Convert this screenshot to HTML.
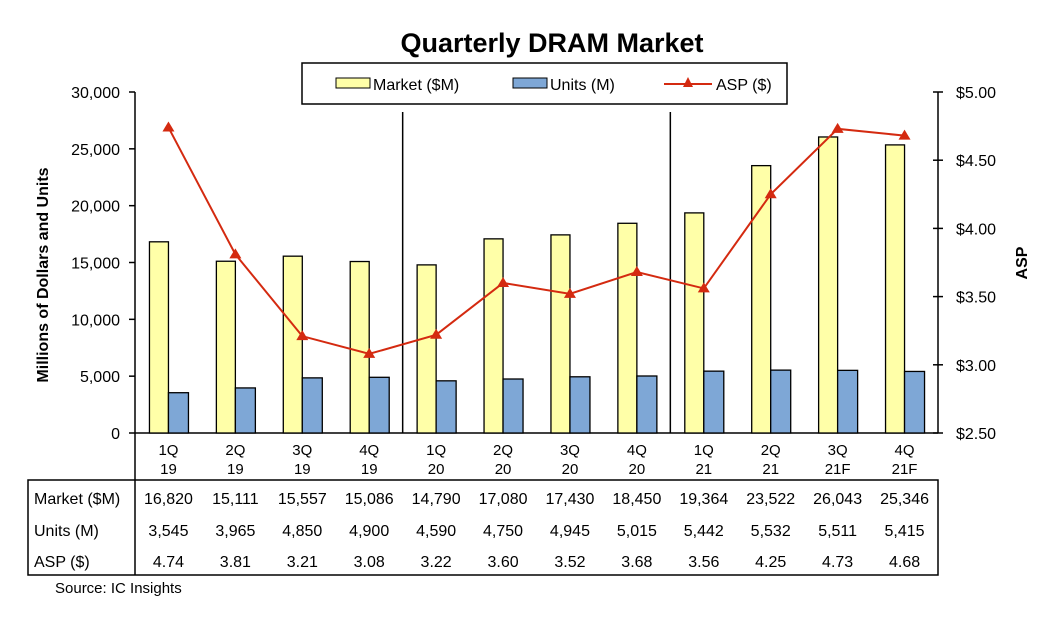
<!DOCTYPE html>
<html><head><meta charset="utf-8"><style>
body{margin:0;background:#fff;font-family:"Liberation Sans",sans-serif;}
svg text{font-family:"Liberation Sans",sans-serif;}
</style></head><body>
<svg id="c" width="1045" height="615" xmlns="http://www.w3.org/2000/svg">
<text x="552" y="52" text-anchor="middle" font-size="27" font-weight="bold">Quarterly DRAM Market</text>
<g>
<rect x="302" y="63" width="485" height="41" fill="#fff" stroke="#000" stroke-width="1.5"/>
<rect x="336" y="78" width="34" height="10" fill="#ffffa8" stroke="#000"/>
<text x="373" y="90" font-size="16">Market ($M)</text>
<rect x="513" y="78" width="34" height="10" fill="#7ea7d6" stroke="#000"/>
<text x="550" y="90" font-size="16">Units (M)</text>
<line x1="664" y1="84" x2="712" y2="84" stroke="#d42a10" stroke-width="2"/>
<polygon points="688,77 683,87 693,87" fill="#d42a10"/>
<text x="716" y="90" font-size="16">ASP ($)</text>
</g>
<g id="g"></g>
</svg>
<script>
const cats1=["1Q","2Q","3Q","4Q","1Q","2Q","3Q","4Q","1Q","2Q","3Q","4Q"];
const cats2=["19","19","19","19","20","20","20","20","21","21","21F","21F"];
const market=[16820,15111,15557,15086,14790,17080,17430,18450,19364,23522,26043,25346];
const units=[3545,3965,4850,4900,4590,4750,4945,5015,5442,5532,5511,5415];
const asp=[4.74,3.81,3.21,3.08,3.22,3.60,3.52,3.68,3.56,4.25,4.73,4.68];
const leftTicks=[0,5000,10000,15000,20000,25000,30000];
const rightTicks=[2.5,3.0,3.5,4.0,4.5,5.0];
const NS="http://www.w3.org/2000/svg";
const g=document.getElementById('g');
const X0=135,X1=938,Y0=433,YT=92,n=cats1.length,cw=(X1-X0)/n;
const yL=v=>Y0-(v/30000)*(Y0-YT);
const yR=v=>Y0-((v-2.5)/2.5)*(Y0-YT);
const xc=i=>X0+cw*(i+0.5);
function mk(t,a,txt){const e=document.createElementNS(NS,t);for(const k in a)e.setAttribute(k,a[k]);if(txt!==undefined)e.textContent=txt;g.appendChild(e);return e;}
const fmt=v=>v.toLocaleString('en-US');
let e;
e=mk('line',{x1:X0,y1:YT,x2:X0,y2:575,stroke:'#000','stroke-width':1.5});

e=mk('line',{x1:X1,y1:YT,x2:X1,y2:Y0,stroke:'#000','stroke-width':1.5});

e=mk('line',{x1:X0,y1:Y0,x2:X1,y2:Y0,stroke:'#000','stroke-width':1.5});

leftTicks.forEach(v=>{const y=yL(v);mk('line',{x1:X0-6,y1:y,x2:X0,y2:y,stroke:'#000','stroke-width':1.5});
e=mk('text',{x:X0-15,y:y+6,'text-anchor':'end','font-size':16},fmt(v));
});
rightTicks.forEach(v=>{const y=yR(v);mk('line',{x1:X1-5,y1:y,x2:X1+5,y2:y,stroke:'#000','stroke-width':1.5});
e=mk('text',{x:X1+18,y:y+6,'font-size':16},'$'+v.toFixed(2));
});
e=mk('text',{x:48,y:275,'font-size':16,'font-weight':'bold','text-anchor':'middle',transform:'rotate(-90 48 275)'},'Millions of Dollars and Units');

e=mk('text',{x:1027,y:263,'font-size':16,'font-weight':'bold','text-anchor':'middle',transform:'rotate(-90 1027 263)'},'ASP');

[4,8].forEach(i=>{const x=X0+cw*i;e=mk('line',{x1:x,y1:112,x2:x,y2:Y0,stroke:'#000','stroke-width':1.5});
});
for(let i=0;i<n;i++){const c=xc(i);
e=mk('rect',{x:c-19,y:yL(market[i]),width:19,height:Y0-yL(market[i]),fill:'#ffffa8',stroke:'#000','stroke-width':1.3});

e=mk('rect',{x:c,y:yL(units[i]),width:20,height:Y0-yL(units[i]),fill:'#7ea7d6',stroke:'#000','stroke-width':1.3});
}
e=mk('polyline',{points:asp.map((v,i)=>xc(i)+','+yR(v)).join(' '),fill:'none',stroke:'#d42a10','stroke-width':2});

asp.forEach((v,i)=>{const x=xc(i),y=yR(v);e=mk('polygon',{points:`${x},${y-6} ${x-6},${y+4} ${x+6},${y+4}`,fill:'#d42a10'});
});
for(let i=0;i<n;i++){const c=xc(i);
e=mk('text',{x:c,y:455,'text-anchor':'middle','font-size':15},cats1[i]);

mk('text',{x:c,y:474,'text-anchor':'middle','font-size':15},cats2[i]);}
e=mk('rect',{x:28,y:480,width:X1-28,height:95,fill:'none',stroke:'#000','stroke-width':1.5});

const rows=[["Market ($M)",market.map(fmt),504],["Units (M)",units.map(fmt),536],["ASP ($)",asp.map(v=>v.toFixed(2)),567]];
rows.forEach(r=>{e=mk('text',{x:34,y:r[2],'font-size':16},r[0]);

r[1].forEach((t,i)=>{mk('text',{x:xc(i),y:r[2],'text-anchor':'middle','font-size':16},t);});});
e=mk('text',{x:55,y:593,'font-size':15},'Source:  IC Insights');

</script>
</body></html>
